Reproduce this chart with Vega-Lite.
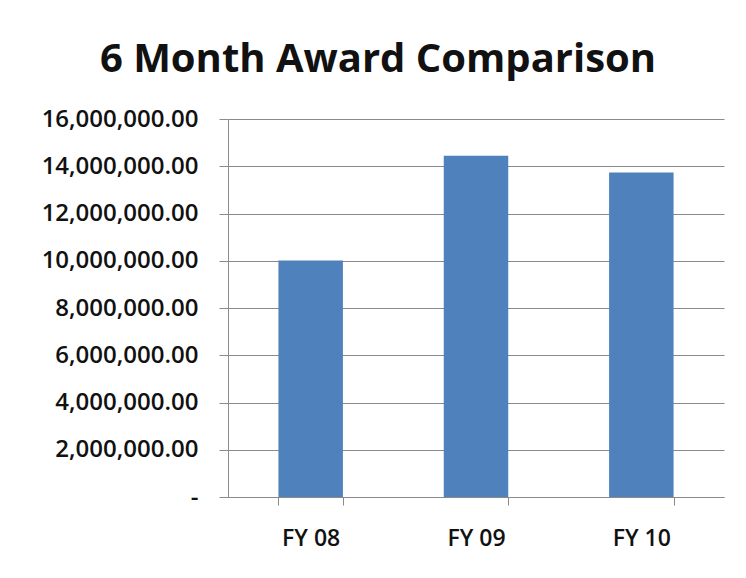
{
  "$schema": "https://vega.github.io/schema/vega-lite/v6.json",
  "autosize": "none",
  "width": 496,
  "height": 378,
  "padding": {"left": 228, "top": 119, "right": 22, "bottom": 81},
  "background": "white",
  "title": {
    "text": "6 Month Award Comparison",
    "font": "Open Sans",
    "fontSize": 40,
    "fontWeight": "bold",
    "color": "#111111",
    "anchor": "middle",
    "baseline": "alphabetic",
    "dx": -98,
    "offset": -5
  },
  "data": {
    "values": [
      {"year": "FY 08", "award": 10010000},
      {"year": "FY 09", "award": 14440000},
      {"year": "FY 10", "award": 13740000}
    ]
  },
  "mark": {"type": "bar", "color": "#4f81bd"},
  "encoding": {
    "x": {
      "field": "year",
      "type": "nominal",
      "sort": null,
      "scale": {"paddingInner": 0.61, "paddingOuter": 0.305},
      "axis": {
        "title": null,
        "labelAngle": 0,
        "labelFont": "Open Sans",
        "labelFontSize": 23,
        "labelFontWeight": 600,
        "labelColor": "#111111",
        "labelPadding": 22,
        "tickBand": "extent",
        "tickSize": 8,
        "tickColor": "#8a8a8a",
        "domainColor": "#8a8a8a",
        "grid": false
      }
    },
    "y": {
      "field": "award",
      "type": "quantitative",
      "scale": {"domain": [0, 16000000], "nice": false},
      "axis": {
        "title": null,
        "values": [0, 2000000, 4000000, 6000000, 8000000, 10000000, 12000000, 14000000, 16000000],
        "labelExpr": "datum.value === 0 ? '-\u2007' : format(datum.value, ',.2f')",
        "labelFont": "Open Sans",
        "labelFontSize": 24,
        "labelFontWeight": 600,
        "labelColor": "#111111",
        "labelPadding": 21,
        "tickSize": 9,
        "tickColor": "#8a8a8a",
        "domainColor": "#8a8a8a",
        "gridColor": "#8a8a8a",
        "gridOpacity": 1
      }
    }
  },
  "config": {
    "view": {"stroke": null}
  }
}
